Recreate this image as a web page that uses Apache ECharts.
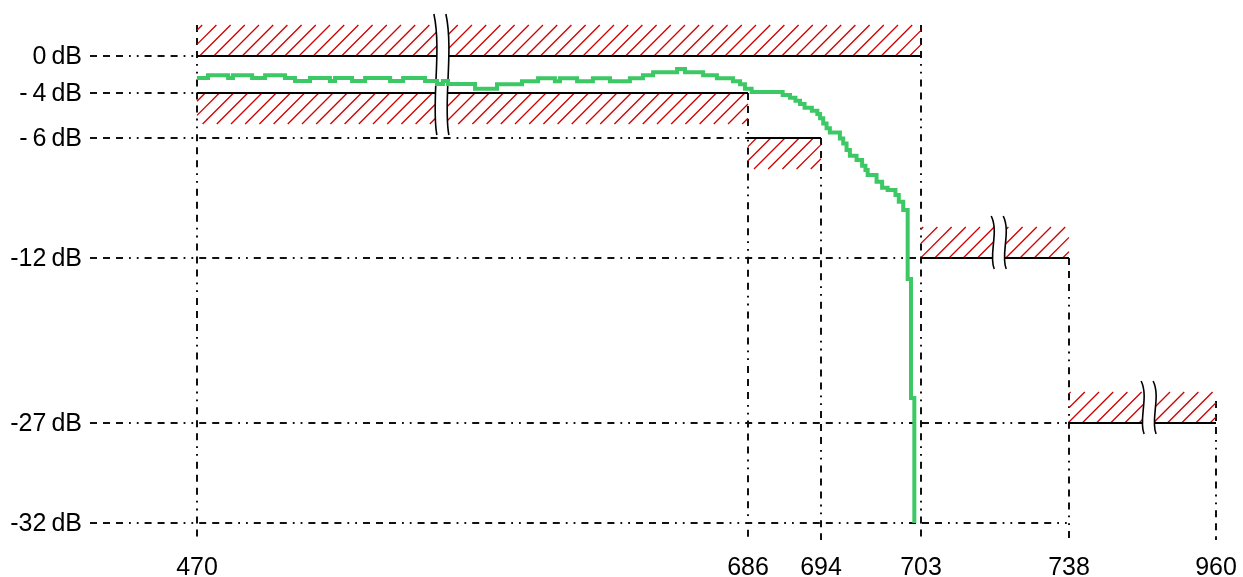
<!DOCTYPE html>
<html><head><meta charset="utf-8">
<script src="https://cdn.jsdelivr.net/npm/echarts@6/dist/echarts.min.js"></script>
<style>html,body{margin:0;padding:0;background:#fff}#c{width:1243px;height:577px}</style>
</head><body><div id="c"></div>
<script>
// ---------------- data ----------------
const xTicks = [470, 686, 694, 703, 738, 960];
const xTickLabels = ['470', '686', '694', '703', '738', '960'];
const yTicks = [0, -4, -6, -12, -27, -32];
const yTickLabels = ['0\u2009dB', '-\u20094\u2009dB', '-\u20096\u2009dB', '-12\u2009dB', '-27\u2009dB', '-32\u2009dB'];

// measured response (MHz, dB), stepped
const respFreq = [470.0, 474.3, 482.2, 484.1, 491.6, 496.7, 504.5, 508.4, 514.3, 522.1,
  524.1, 530.8, 535.9, 545.7, 550.8, 559.4, 564.1, 566.4, 568.4, 579.0,
  587.6, 597.4, 603.7, 610.3, 612.3, 619.0, 625.2, 631.9, 639.7, 644.8,
  648.8, 658.2, 661.3, 668.4, 673.8, 680.1, 682.9, 684.8, 686.4, 689.8,
  690.6, 691.2, 691.7, 692.2, 693.0, 693.6, 693.9, 694.2, 694.5, 694.8,
  695.7, 696.0, 696.3, 696.6, 697.2, 697.7, 698.0, 698.2, 699.0, 699.5,
  700.0, 700.7, 701.0, 701.4, 701.8, 702.1, 702.4];
const respDb = [-2.38, -2.09, -2.38, -2.09, -2.38, -2.09, -2.38, -2.70, -2.38, -2.70,
  -2.38, -2.70, -2.38, -2.70, -2.38, -2.70, -3.03, -2.70, -3.03, -3.54,
  -3.06, -2.74, -2.41, -2.74, -2.41, -2.74, -2.41, -2.74, -2.41, -2.09,
  -1.76, -1.41, -1.76, -2.09, -2.41, -2.74, -3.06, -3.54, -3.89, -4.09,
  -4.21, -4.34, -4.49, -4.65, -4.79, -4.93, -5.12, -5.35, -5.57, -5.76,
  -6.02, -6.27, -6.60, -6.89, -7.10, -7.39, -7.60, -7.85, -8.19, -8.49,
  -8.60, -8.85, -9.19, -9.60, -13.91, -24.73, -32.0];

// tolerance mask segments
const maskStart = [470, 470, 686, 703, 738];
const maskEnd = [703, 686, 694, 738, 960];
const maskLevel = [0, -4, -6, -12, -27];
const maskSide = [1, -1, -1, 1, 1]; // 1 = forbidden above, -1 = forbidden below

// reference guides
const hGuideLevel = [0, -4, -6, -12, -27, -32];
const hGuideEnd = [470, 470, 686, 703, 738, 738];
const vGuideFreq = [470, 686, 694, 703, 738, 960];
const vGuideTop = [0, -4, -6, 0, -12, -27];

// axis-break symbols on the mask
const breakFreq = [566, 721.5, 859];

// ---------------- layout / style ----------------
// non-linear axes: display offset of every tick
const xTickPos = [0, 551, 624, 724, 872, 1019];
const yTickPos = [0, 37, 82, 202, 367, 467];
const vGuideLead = [31, 0, 0, 31, 0, 22];
const HATCH = 31, HSP = 14.2;
const DASH = [7, 6, 7, 6, 7, 6, 1.8, 6, 1.8, 6];
const FONT = 'Liberation Sans, Arial, sans-serif';
const FS = 25;

function pw(v, ticks, pos) {
  const n = ticks.length, inc = ticks[n - 1] > ticks[0];
  let i = 0;
  for (i = 0; i < n - 2; i++) { if (inc ? v <= ticks[i + 1] : v >= ticks[i + 1]) break; }
  const t = (v - ticks[i]) / (ticks[i + 1] - ticks[i]);
  return pos[i] + t * (pos[i + 1] - pos[i]);
}
const X = f => pw(f, xTicks, xTickPos);
const Y = d => pw(d, yTicks, yTickPos);

const chart = echarts.init(document.getElementById('c'), null, { renderer: 'canvas' });

const lineStyleGuide = { stroke: '#111', lineWidth: 2, lineDash: DASH };

chart.setOption({
  animation: false,
  backgroundColor: '#fff',
  grid: { left: 90, top: 10, width: 1135, height: 530 },
  xAxis: { type: 'value', min: -107, max: 1028, show: false },
  yAxis: { type: 'value', inverse: true, min: -46, max: 484, show: false },
  series: [
    { // horizontal guides
      type: 'custom', silent: true, z: 1, encode: { x: 0, y: 1 },
      data: hGuideLevel.map((l, i) => [X(hGuideEnd[i]), Y(l)]),
      renderItem: (params, api) => {
        const p = api.coord([api.value(0), api.value(1)]);
        const cs = params.coordSys;
        return { type: 'line', shape: { x1: cs.x, y1: p[1], x2: p[0], y2: p[1] }, style: lineStyleGuide };
      }
    },
    { // vertical guides
      type: 'custom', silent: true, z: 1, encode: { x: 0, y: 1 },
      data: vGuideFreq.map((f, i) => [X(f), Y(vGuideTop[i])]),
      renderItem: (params, api) => {
        const p = api.coord([api.value(0), api.value(1)]);
        const cs = params.coordSys;
        const top = p[1] - vGuideLead[params.dataIndex];
        return { type: 'line', shape: { x1: p[0], y1: top, x2: p[0], y2: cs.y + cs.height }, style: lineStyleGuide };
      }
    },
    { // hatched forbidden zones
      type: 'custom', silent: true, z: 2, encode: { x: [0, 1], y: 2 },
      data: maskLevel.map((l, i) => [X(maskStart[i]), X(maskEnd[i]), Y(l), maskSide[i]]),
      renderItem: (params, api) => {
        const a = api.coord([api.value(0), api.value(2)]);
        const b = api.coord([api.value(1), api.value(2)]);
        const side = api.value(3);
        const x0 = a[0], x1 = b[0];
        const y0 = side > 0 ? a[1] - HATCH : a[1];
        const y1 = side > 0 ? a[1] : a[1] + HATCH;
        const children = [];
        for (let k = Math.ceil((x0 + y0) / HSP) * HSP; k <= x1 + y1; k += HSP) {
          const xa = Math.max(x0, k - y1), xb = Math.min(x1, k - y0);
          if (xb - xa > 0.8) children.push({ type: 'line', shape: { x1: xa, y1: k - xa, x2: xb, y2: k - xb }, style: { stroke: '#d00000', lineWidth: 1.3 } });
        }
        return { type: 'group', children };
      }
    },
    { // limit lines
      type: 'custom', silent: true, z: 3, encode: { x: [0, 1], y: 2 },
      data: maskLevel.map((l, i) => [X(maskStart[i]), X(maskEnd[i]), Y(l)]),
      renderItem: (params, api) => {
        const a = api.coord([api.value(0), api.value(2)]);
        const b = api.coord([api.value(1), api.value(2)]);
        return { type: 'line', shape: { x1: a[0], y1: a[1], x2: b[0], y2: b[1] }, style: { stroke: '#000', lineWidth: 2 } };
      }
    },
    { // break symbols
      type: 'custom', silent: true, z: 4, encode: { x: 0 },
      data: breakFreq.map(f => [X(f)]),
      renderItem: (params, api) => {
        const bx = api.value(0);
        let top = Infinity, bot = -Infinity, cx = null;
        maskLevel.forEach((l, i) => {
          const xs = X(maskStart[i]), xe = X(maskEnd[i]);
          if (bx > xs && bx < xe) {
            const p = api.coord([bx, Y(l)]);
            cx = p[0];
            const t = maskSide[i] > 0 ? p[1] - HATCH : p[1];
            const bt = maskSide[i] > 0 ? p[1] : p[1] + HATCH;
            top = Math.min(top, t); bot = Math.max(bot, bt);
          }
        });
        if (cx === null) return null;
        top -= 11; bot += 11;
        const h = bot - top;
        const curve = (c) => ({ x1: c - 2, y1: top, cpx1: c + 6, cpy1: top + 0.3 * h, cpx2: c - 5, cpy2: top + 0.75 * h, x2: c + 1, y2: bot });
        const L = curve(cx - 6), R = curve(cx + 6);
        const path = `M${L.x1} ${L.y1} C${L.cpx1} ${L.cpy1} ${L.cpx2} ${L.cpy2} ${L.x2} ${L.y2} L${R.x2} ${R.y2} C${R.cpx2} ${R.cpy2} ${R.cpx1} ${R.cpy1} ${R.x1} ${R.y1} Z`;
        return {
          type: 'group', children: [
            { type: 'path', shape: { pathData: path }, style: { fill: '#fff', stroke: null } },
            { type: 'bezierCurve', shape: L, style: { stroke: '#000', lineWidth: 1.6, fill: null } },
            { type: 'bezierCurve', shape: R, style: { stroke: '#000', lineWidth: 1.6, fill: null } }
          ]
        };
      }
    },
    { // measured response
      type: 'line', step: 'end', z: 10, silent: true,
      showSymbol: false, symbol: 'none',
      lineStyle: { color: '#3cc864', width: 4, cap: 'butt', join: 'miter' },
      data: respFreq.map((f, i) => [X(f), Y(respDb[i])])
    },
    { // x tick labels
      type: 'custom', silent: true, z: 5, encode: { x: 0 },
      data: xTicks.map(f => [X(f)]),
      renderItem: (params, api) => {
        const p = api.coord([api.value(0), 0]);
        const cs = params.coordSys;
        return { type: 'text', x: p[0], y: cs.y + cs.height + 28,
          style: { text: xTickLabels[params.dataIndex], fill: '#000', fontSize: FS, fontFamily: FONT, align: 'center', verticalAlign: 'middle' } };
      }
    },
    { // y tick labels
      type: 'custom', silent: true, z: 5, encode: { y: 0 },
      data: yTicks.map(d => [Y(d)]),
      renderItem: (params, api) => {
        const p = api.coord([0, api.value(0)]);
        const cs = params.coordSys;
        return { type: 'text', x: cs.x - 8, y: p[1] + 1.5,
          style: { text: yTickLabels[params.dataIndex], fill: '#000', fontSize: FS, fontFamily: FONT, align: 'right', verticalAlign: 'middle' } };
      }
    }
  ]
});
</script>
</body></html>
